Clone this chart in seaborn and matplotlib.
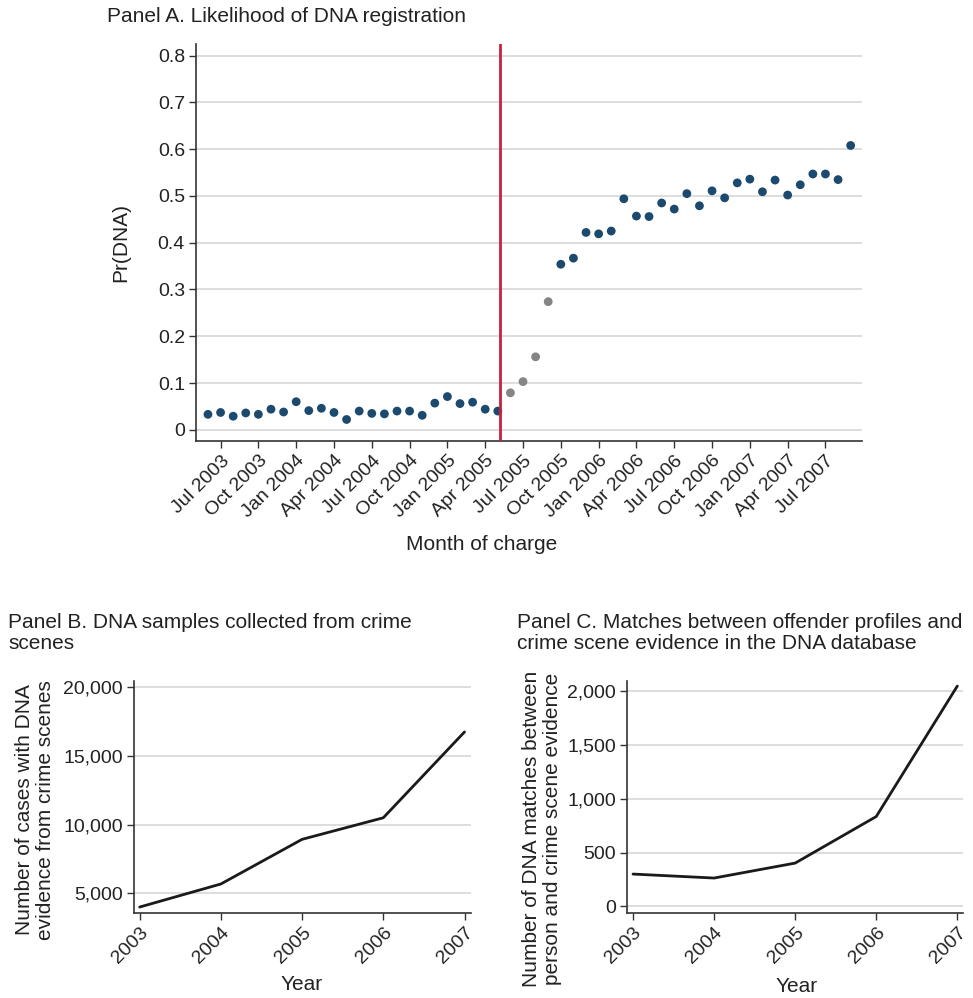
import numpy as np
import pandas as pd
import matplotlib
matplotlib.use("Agg")
import matplotlib.pyplot as plt
import seaborn as sns

# ---- Panel A: monthly probability of DNA registration (Jun 2003 - Sep 2007)
months = pd.date_range("2003-06-01", "2007-09-01", freq="MS")
pr_dna = [
    0.033, 0.037, 0.029, 0.036, 0.033, 0.044, 0.038,                      # 2003
    0.060, 0.041, 0.046, 0.037, 0.022, 0.040, 0.035, 0.034, 0.040, 0.040,
    0.031, 0.057,                                                          # 2004
    0.071, 0.056, 0.059, 0.044, 0.040, 0.079, 0.103, 0.156, 0.274, 0.354,
    0.367, 0.422,                                                          # 2005
    0.419, 0.425, 0.494, 0.457, 0.456, 0.485, 0.472, 0.505, 0.479, 0.511,
    0.496, 0.528,                                                          # 2006
    0.536, 0.509, 0.534, 0.502, 0.524, 0.547, 0.547, 0.535, 0.608,        # 2007
]
# transition months after the reform
transition = ["2005-06", "2005-07", "2005-08", "2005-09"]
reform_month = 23.2  # months after Jun 2003

tick_months = ["Jul 2003", "Oct 2003", "Jan 2004", "Apr 2004", "Jul 2004",
               "Oct 2004", "Jan 2005", "Apr 2005", "Jul 2005", "Oct 2005",
               "Jan 2006", "Apr 2006", "Jul 2006", "Oct 2006", "Jan 2007",
               "Apr 2007", "Jul 2007"]

# ---- Panels B and C: yearly totals
years = [2003, 2004, 2005, 2006, 2007]
crime_scene_cases = [4000, 5680, 8930, 10500, 16750]
dna_matches = [301, 264, 403, 836, 2049]

W, H = 973, 998
sns.set_theme(style="white")
plt.rcParams["font.family"] = ["Liberation Sans", "DejaVu Sans"]
TXT = "#222222"
SPINE = "#333333"
GRID = "#d3d3d3"
BLUE = "#1b4a6e"
GREY = "#858585"
RED = "#c8213a"
FS = 15
TICK_FS = 14

fig = plt.figure(figsize=(W / 100, H / 100), dpi=100)


def px_axes(left, top, right, bottom):
    return fig.add_axes([left / W, 1 - bottom / H, (right - left) / W, (bottom - top) / H])


def px_text(x, y, s, **kw):
    kw.setdefault("color", TXT)
    kw.setdefault("fontsize", FS)
    fig.text(x / W, 1 - y / H, s, **kw)


def style_axes(ax):
    for side in ("top", "right"):
        ax.spines[side].set_visible(False)
    for side in ("left", "bottom"):
        ax.spines[side].set_color(SPINE)
        ax.spines[side].set_linewidth(1.2)
    ax.tick_params(axis="both", direction="out", length=5, width=1, color=SPINE,
                   labelsize=TICK_FS, labelcolor=TXT, left=True, bottom=True, pad=3)
    ax.grid(axis="y", color=GRID, linewidth=1.1)
    ax.grid(axis="x", visible=False)
    ax.set_axisbelow(True)
    ax.set_xlabel("")
    ax.set_ylabel("")


# ---- Panel A
dfa = pd.DataFrame({"month": months, "pr": pr_dna})
dfa["idx"] = np.arange(len(dfa))
dfa["group"] = np.where(dfa["month"].dt.strftime("%Y-%m").isin(transition), "transition", "regular")

axA = px_axes(196, 44, 862, 441)
sns.scatterplot(data=dfa, x="idx", y="pr", hue="group",
                palette={"regular": BLUE, "transition": GREY},
                s=40, edgecolor="none", legend=False, ax=axA, zorder=3)
axA.axvline(reform_month, color=RED, linewidth=2, zorder=4)
axA.set_xlim(-0.95, 51.9)
axA.set_ylim(-0.024, 0.825)
axA.set_yticks(np.arange(0, 0.81, 0.1))
axA.set_yticklabels(["0"] + [f"{v:.1f}" for v in np.arange(0.1, 0.81, 0.1)])
tick_pos = [dfa.index[dfa["month"] == pd.to_datetime(t, format="%b %Y")][0] for t in tick_months]
axA.set_xticks(tick_pos)
axA.set_xticklabels(tick_months, rotation=45, ha="right", rotation_mode="anchor")
style_axes(axA)

px_text(107, 16, "Panel A. Likelihood of DNA registration", ha="left", va="center")
px_text(121, 243, "Pr(DNA)", rotation=90, ha="center", va="center")
px_text(482, 545, "Month of charge", ha="center", va="center")

# ---- Panel B
dfb = pd.DataFrame({"year": years, "cases": crime_scene_cases})
axB = px_axes(134, 681, 471, 913)
sns.lineplot(data=dfb, x="year", y="cases", color="#1a1a1a", linewidth=2, ax=axB)
axB.set_xlim(2002.93, 2007.08)
axB.set_ylim(3566, 20460)
axB.set_yticks([5000, 10000, 15000, 20000])
axB.set_yticklabels([f"{v:,}" for v in [5000, 10000, 15000, 20000]])
axB.set_xticks(years)
axB.set_xticklabels([str(y) for y in years], rotation=45, ha="right", rotation_mode="anchor")
style_axes(axB)

px_text(8, 633, "Panel B. DNA samples collected from crime\nscenes", ha="left", va="center",
        linespacing=1.1)
px_text(35, 810, "Number of cases with DNA\nevidence from crime scenes", rotation=90,
        ha="center", va="center", linespacing=1.1)
px_text(302, 984, "Year", ha="center", va="center")

# ---- Panel C
dfc = pd.DataFrame({"year": years, "matches": dna_matches})
axC = px_axes(627, 681, 963, 913)
sns.lineplot(data=dfc, x="year", y="matches", color="#1a1a1a", linewidth=2, ax=axC)
axC.set_xlim(2002.926, 2007.07)
axC.set_ylim(-61, 2096)
axC.set_yticks([0, 500, 1000, 1500, 2000])
axC.set_yticklabels([f"{v:,}" for v in [0, 500, 1000, 1500, 2000]])
axC.set_xticks(years)
axC.set_xticklabels([str(y) for y in years], rotation=45, ha="right", rotation_mode="anchor")
style_axes(axC)

px_text(517, 633, "Panel C. Matches between offender profiles and\ncrime scene evidence in the DNA database",
        ha="left", va="center", linespacing=1.1)
px_text(542, 829, "Number of DNA matches between\nperson and crime scene evidence", rotation=90,
        ha="center", va="center", linespacing=1.1)
px_text(797, 987, "Year", ha="center", va="center")

fig.savefig("out.png", dpi=100)
